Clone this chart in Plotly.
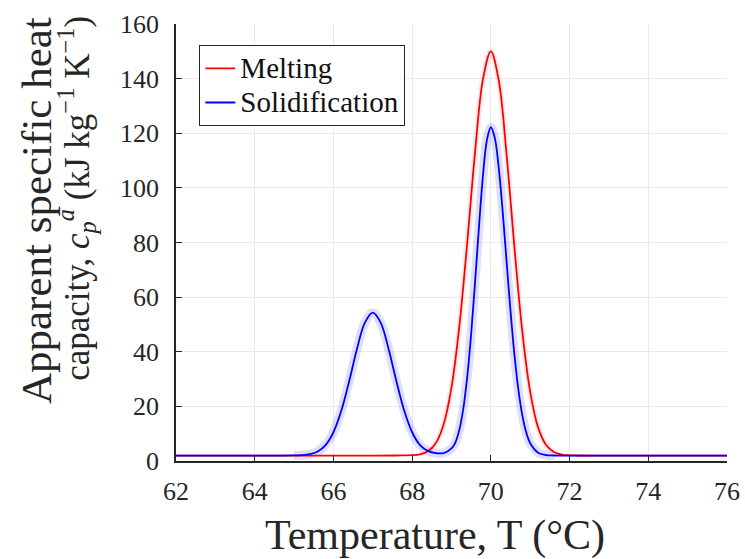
import plotly.graph_objects as go

# ---- data ----
T_melt = [62, 64, 66, 67, 67.6, 67.8, 68.0, 68.2, 68.4, 68.6, 68.8, 69.0, 69.2, 69.4, 69.6, 69.8,
          70.0, 70.2, 70.4, 70.6, 70.8, 71.0, 71.2, 71.4, 71.6, 71.8, 72.0, 72.2, 72.6, 74, 76]
cp_melt = [2.0, 2.0, 2.0, 2.0, 2.01, 2.04, 2.12, 2.46, 3.55, 6.52, 13.4, 26.95, 49.4, 80.0, 113.3, 139.8,
           150.0, 139.4, 112.1, 78.1, 47.3, 25.3, 12.3, 5.95, 3.3, 2.37, 2.09, 2.02, 2.0, 2.0, 2.0]

T_sol = [62, 64, 64.6, 65.0, 65.2, 65.4, 65.6, 65.8, 66.0, 66.2, 66.4, 66.6, 66.8, 67.0, 67.2, 67.4,
         67.6, 67.8, 68.0, 68.2, 68.4, 68.6, 68.8, 69.0, 69.1, 69.2, 69.3, 69.4, 69.5, 69.6, 69.7,
         69.8, 69.9, 70.0, 70.1, 70.2, 70.3, 70.4, 70.5, 70.6, 70.7, 70.8, 70.9, 71.0, 71.2, 71.4,
         71.6, 72, 74, 76]
cp_sol = [2.0, 2.0, 2.0, 2.04, 2.15, 2.5, 3.5, 5.84, 10.53, 18.38, 29.22, 41.13, 50.64, 54.3, 50.64, 41.13,
          29.22, 18.38, 10.53, 5.84, 3.7, 2.9, 2.9, 4.6, 6.85, 11.48, 19.2, 30.8, 46.6, 65.7, 86.1,
          104.6, 117.5, 122.2, 118.3, 107.4, 91.4, 73.0, 54.8, 38.8, 26.0, 16.7, 10.4, 6.49, 3.06, 2.19,
          2.02, 2.0, 2.0, 2.0]

x_ticks = [62, 64, 66, 68, 70, 72, 74, 76]
y_ticks = [0, 20, 40, 60, 80, 100, 120, 140, 160]

# uncertainty band ranges (where the shaded band is visible)
sol_band_range = (65.0, 71.6)
melt_band_range = (68.4, 71.6)

def subset(xs, ys, rng):
    pts = [(x, y) for x, y in zip(xs, ys) if rng[0] <= x <= rng[1]]
    return [p[0] for p in pts], [p[1] for p in pts]

FONT = "Liberation Serif"
fig = go.Figure()

bx, by = subset(T_sol, cp_sol, sol_band_range)
fig.add_trace(go.Scatter(x=bx, y=by, mode="lines", line=dict(color="rgba(60,60,255,0.17)", width=9, shape="spline"),
                         showlegend=False, hoverinfo="skip"))
mx, my = subset(T_melt, cp_melt, melt_band_range)
fig.add_trace(go.Scatter(x=mx, y=my, mode="lines", line=dict(color="rgba(255,60,60,0.10)", width=6, shape="spline"),
                         showlegend=False, hoverinfo="skip"))

fig.add_trace(go.Scatter(x=T_melt, y=cp_melt, mode="lines",
                         name="<span style='font-size:29px'>Melting</span>",
                         line=dict(color="#ff0000", width=1.8, shape="spline")))
fig.add_trace(go.Scatter(x=T_sol, y=cp_sol, mode="lines",
                         name="<span style='font-size:29px'>Solidification</span>",
                         line=dict(color="#0000ff", width=1.8, shape="spline")))

axis_common = dict(showline=True, linecolor="#262626", linewidth=1.5, ticks="inside", ticklen=6,
                   tickwidth=1.2, tickcolor="#262626", showgrid=True, gridcolor="#ebebeb", gridwidth=1,
                   zeroline=False, mirror=False, automargin=False,
                   tickfont=dict(family=FONT, size=26, color="#262626"))

fig.update_layout(
    width=745, height=559,
    margin=dict(l=176, r=18, t=24, b=98),
    paper_bgcolor="white", plot_bgcolor="white",
    xaxis=dict(range=[62, 76], tickvals=x_ticks, ticklabelstandoff=6, **axis_common),
    yaxis=dict(range=[0, 160], tickvals=y_ticks, ticklabelstandoff=10, **axis_common),
    legend=dict(x=0.042, y=0.952, xanchor="left", yanchor="top", bgcolor="white",
                bordercolor="#262626", borderwidth=1.2, font=dict(family=FONT, size=24, color="#111"),
                tracegroupgap=0, itemwidth=30),
    showlegend=True,
)

fig.add_annotation(text="Apparent specific heat", xref="paper", yref="paper", x=0, y=0.572,
                   xshift=-140, textangle=-90, showarrow=False, xanchor="center", yanchor="middle",
                   font=dict(family=FONT, size=43, color="#262626"))
fig.add_annotation(text="capacity, <i>c</i><sub><i>p</i></sub><sup><i>a</i></sup> (kJ kg<sup>\u22121</sup> K<sup>\u22121</sup>)",
                   xref="paper", yref="paper", x=0, y=0.600,
                   xshift=-99, textangle=-90, showarrow=False, xanchor="center", yanchor="middle",
                   font=dict(family=FONT, size=35, color="#262626"))
fig.add_annotation(text="Temperature, T (\u00b0C)", xref="paper", yref="paper", x=(435 - 176) / 551, y=0,
                   yshift=-74, showarrow=False, xanchor="center", yanchor="middle",
                   font=dict(family=FONT, size=42, color="#262626"))

fig.write_html("out.html", config={"displayModeBar": False},
               post_script="document.body.style.margin='0px';document.body.style.padding='0px';")
